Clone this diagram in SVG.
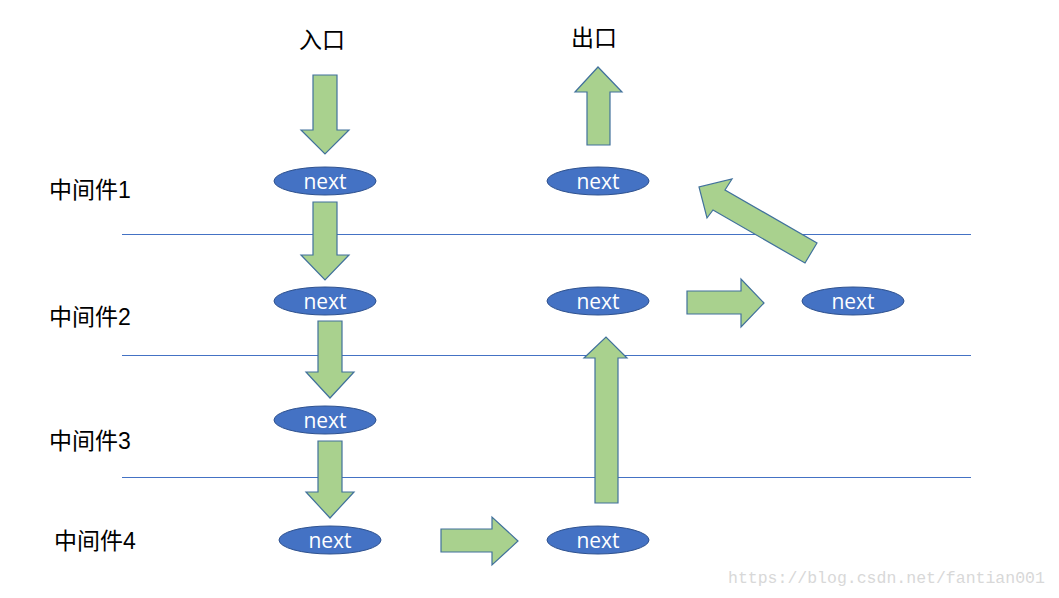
<svg xmlns="http://www.w3.org/2000/svg" width="1059" height="598" viewBox="0 0 1059 598">
<style>
.arr{fill:#A9D18E;stroke:#41719C;stroke-width:1.2}
.ell{fill:#4472C4;stroke:#2F528F;stroke-width:1}
.nt{fill:#fff;font-family:"Open Sans","Liberation Sans",sans-serif;font-size:21px;text-anchor:middle}
.lbl{fill:#000;font-family:"Liberation Sans","Noto Sans CJK SC",sans-serif;font-size:23px}
.ln{stroke:#4472C4;stroke-width:1}
</style>
<rect width="1059" height="598" fill="#fff"/>
<g id="lines">
<line class="ln" x1="122" y1="234.5" x2="971" y2="234.5"/>
<line class="ln" x1="122" y1="355.5" x2="971" y2="355.5"/>
<line class="ln" x1="122" y1="477.5" x2="971" y2="477.5"/>
</g>
<g id="labels">
<text class="lbl" x="322" y="48" text-anchor="middle">入口</text>
<text class="lbl" x="594" y="46" text-anchor="middle">出口</text>
<text class="lbl" x="49" y="198">中间件1</text>
<text class="lbl" x="49" y="325">中间件2</text>
<text class="lbl" x="49" y="449">中间件3</text>
<text class="lbl" x="54" y="549">中间件4</text>
</g>
<g id="connectors">
<polygon class="arr" points="313,75 337,75 337,130 349,130 325,154 301,130 313,130"/>
<polygon class="arr" points="313,202 337,202 337,255 349,255 325,280 301,255 313,255"/>
<polygon class="arr" points="318,321 342,321 342,372 354,372 330,398 306,372 318,372"/>
<polygon class="arr" points="318,441 342,441 342,492 354,492 330,518 306,492 318,492"/>
<polygon class="arr" points="441,529 492,529 492,517 518,541 492,565 492,552 441,552"/>
<polygon class="arr" points="595,503 618,503 618,358 627,358 606,337 584,358 595,358"/>
<polygon class="arr" points="687,291 741,291 741,279 764,303 741,327 741,314 687,314"/>
<polygon class="arr" points="587,145 610,145 610,92 622,92 598,67 575,92 587,92"/>
<polygon class="arr" points="817,243 805,263 713,210 707,218 699,187 732,179 725,190"/>
</g>
<g id="n1"><ellipse class="ell" cx="325" cy="181" rx="51" ry="14"/><text class="nt" x="325" y="189">next</text></g>
<g id="n2"><ellipse class="ell" cx="325" cy="301" rx="51" ry="14"/><text class="nt" x="325" y="309">next</text></g>
<g id="n3"><ellipse class="ell" cx="325" cy="420" rx="51" ry="14"/><text class="nt" x="325" y="428">next</text></g>
<g id="n4"><ellipse class="ell" cx="330" cy="540" rx="51" ry="14"/><text class="nt" x="330" y="548">next</text></g>
<g id="n5"><ellipse class="ell" cx="598" cy="540" rx="51" ry="14"/><text class="nt" x="598" y="548">next</text></g>
<g id="n6"><ellipse class="ell" cx="598" cy="301" rx="51" ry="14"/><text class="nt" x="598" y="309">next</text></g>
<g id="n7"><ellipse class="ell" cx="853" cy="301" rx="51" ry="14"/><text class="nt" x="853" y="309">next</text></g>
<g id="n8"><ellipse class="ell" cx="598" cy="181" rx="51" ry="14"/><text class="nt" x="598" y="189">next</text></g>
<text x="728" y="583" fill="#d8d8d8" font-family="Liberation Mono, monospace" font-size="16.5px">https://blog.csdn.net/fantian001</text>
</svg>
